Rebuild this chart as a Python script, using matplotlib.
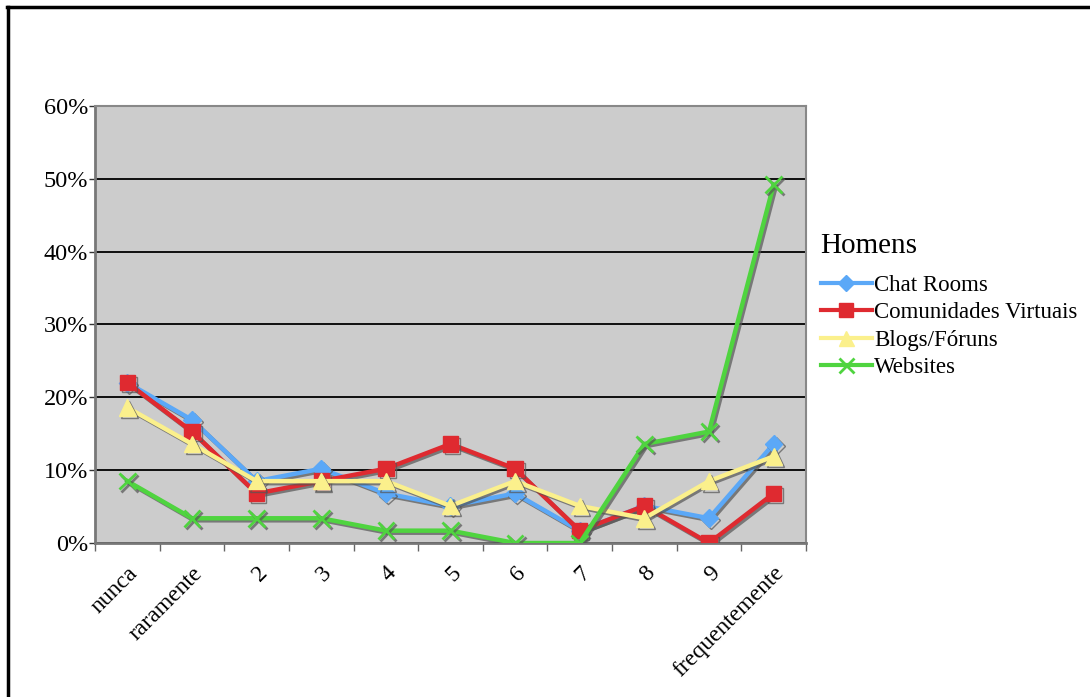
import matplotlib
matplotlib.use("Agg")
import matplotlib.pyplot as plt
import matplotlib.patheffects as pe
from matplotlib.lines import Line2D
from matplotlib.ticker import FixedLocator, PercentFormatter

plt.rcParams['font.family'] = ['Liberation Serif', 'DejaVu Serif']

## categories and series values (percent)
categorias = ['nunca', 'raramente', '2', '3', '4', '5', '6', '7', '8', '9', 'frequentemente']
chat_rooms = [22.0, 16.9, 8.5, 10.2, 6.8, 5.1, 6.8, 1.7, 5.1, 3.4, 13.6]
comunidades = [22.0, 15.3, 6.8, 8.5, 10.2, 13.6, 10.2, 1.7, 5.1, 0.0, 6.8]
blogs = [18.6, 13.6, 8.5, 8.5, 8.5, 5.1, 8.5, 5.1, 3.4, 8.5, 11.9]
websites = [8.5, 3.4, 3.4, 3.4, 1.7, 1.7, 0.0, 0.0, 13.6, 15.3, 49.2]
series_nomes = ['Chat Rooms', 'Comunidades Virtuais', 'Blogs/Fóruns', 'Websites']

fig = plt.figure(figsize=(10.9, 6.97), dpi=100)
ax = fig.add_axes([0.0872, 0.2209, 0.6522, 0.6271])
ax.set_facecolor('#cccccc')

x = list(range(len(categorias)))
shadow = [pe.SimpleLineShadow(offset=(1.5, -1.5), shadow_color='#555555', alpha=0.7), pe.Normal()]

estilos = [
    (chat_rooms, '#5ba8f7', 'D', 9, 1),
    (comunidades, '#df2a30', 's', 11, 1),
    (blogs, '#fbf08c', '^', 12, 1),
    (websites, '#4fd43f', 'x', 12, 2),
]
handles = []
for (vals, cor, mk, ms, mew), nome in zip(estilos, series_nomes):
    ax.plot(x, vals, color=cor, lw=3.2, marker=mk, markersize=ms, markeredgewidth=mew,
            markeredgecolor=cor, markerfacecolor=cor, path_effects=shadow, zorder=3)
    handles.append(Line2D([], [], color=cor, lw=3, marker=mk, markersize=ms * 0.9,
                          markeredgewidth=mew, markeredgecolor=cor, markerfacecolor=cor))

ax.set_xlim(-0.5, len(categorias) - 0.5)
ax.set_ylim(0, 60)
ax.yaxis.set_major_locator(FixedLocator([0, 10, 20, 30, 40, 50, 60]))
ax.yaxis.set_major_formatter(PercentFormatter(decimals=0))
ax.grid(axis='y', color='black', lw=1.3, zorder=1)
ax.set_axisbelow(True)

ax.set_xticks(x)
ax.set_xticklabels(categorias, rotation=45, ha='right', rotation_mode='anchor', fontsize=17)
ax.tick_params(axis='x', which='major', length=0, pad=14)
ax.set_xticks([i + 0.5 for i in range(-1, len(categorias))], minor=True)
ax.tick_params(axis='x', which='minor', length=6, width=1, color='#666666', direction='out')
ax.tick_params(axis='y', length=4, width=1, color='#333333', labelsize=17.5, pad=1)

for s in ['top', 'right']:
    ax.spines[s].set_color('#888888')
    ax.spines[s].set_linewidth(1.5)
for s in ['left', 'bottom']:
    ax.spines[s].set_color('#777777')
    ax.spines[s].set_linewidth(2)

leg = ax.legend(handles, series_nomes, title='Homens', loc='upper left',
                bbox_to_anchor=(0.998, 0.745), frameon=False, fontsize=16.5,
                title_fontsize=21, handlelength=2.25, handletextpad=0.1,
                labelspacing=0.28, borderaxespad=0.3)
leg._legend_box.align = 'left'
leg._legend_box.sep = 11  ## extra room under the title

## border around the figure (left and top only)
fig.add_artist(Line2D([0.007, 0.007], [0, 0.99], color='black', lw=2.5, transform=fig.transFigure))
fig.add_artist(Line2D([0.006, 1.0], [0.99, 0.99], color='black', lw=2.5, transform=fig.transFigure))

fig.savefig('out.png', dpi=100)
